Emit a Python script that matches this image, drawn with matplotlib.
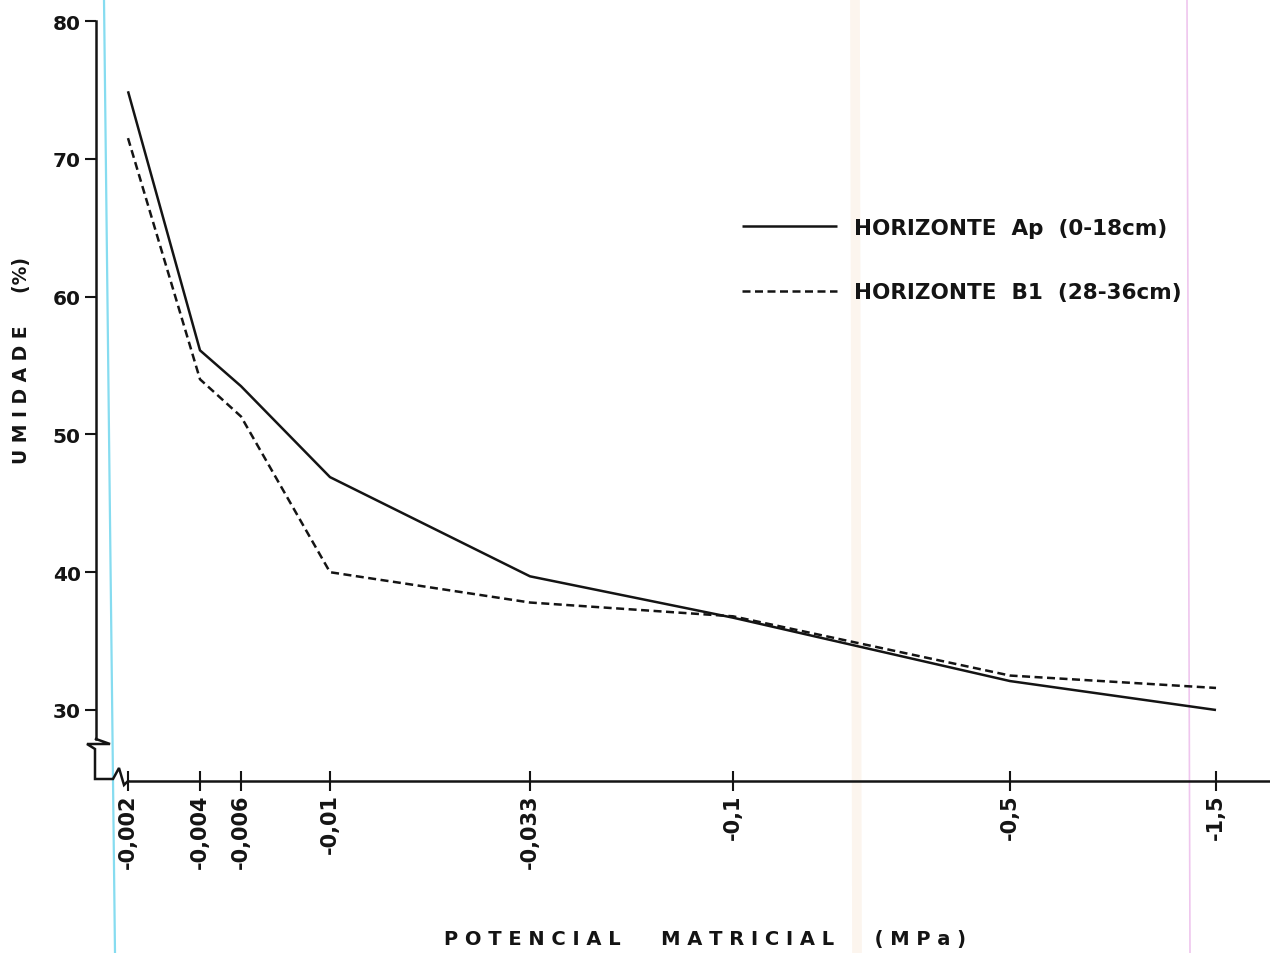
import numpy as np
import matplotlib
matplotlib.use("Agg")
import matplotlib.pyplot as plt
from matplotlib.lines import Line2D

# ---------------- data ----------------
potential = [0.002, 0.004, 0.006, 0.01, 0.033, 0.1, 0.5, 1.5]   # |MPa|
tick_labels = ['-0,002', '-0,004', '-0,006', '-0,01', '-0,033', '-0,1', '-0,5', '-1,5']
umidade_ap = [74.9, 56.1, 53.5, 46.9, 39.7, 36.7, 32.1, 30.0]
umidade_b1 = [71.5, 54.0, 51.3, 40.0, 37.8, 36.8, 32.5, 31.6]
y_ticks = [30, 40, 50, 60, 70, 80]
series_names = ['HORIZONTE  Ap  (0-18cm)', 'HORIZONTE  B1  (28-36cm)']

# ---------------- figure ----------------
W, H = 1270, 954
fig = plt.figure(figsize=(W / 100, H / 100), dpi=100)
fig.patch.set_facecolor('white')

# scanner artefact lines (behind everything)
fig.add_artist(Line2D([104 / W, 115 / W], [1, 0], color='#86dcf0', lw=1.6, zorder=0))
fig.add_artist(Line2D([1187 / W, 1190 / W], [1, 0], color='#efc6ee', lw=1.2, zorder=0))
fig.add_artist(Line2D([855 / W, 857 / W], [1, 0], color='#fcf5ee', lw=7, zorder=0))

# hand-drawn (quasi-log) x axis: anchor positions of the original drawing
anchor_log = np.log10(np.array([1e-4] + potential + [100.0]))
anchor_pos = np.array([128 - 239 * 1.301, 128, 200, 241, 330, 530, 733, 1010, 1216,
                       1216 + 420 * 1.824])

def fwd(v):
    v = np.asarray(v, dtype=float)
    return np.interp(np.log10(np.clip(v, 1e-12, None)), anchor_log, anchor_pos)

def inv(p):
    p = np.asarray(p, dtype=float)
    return 10 ** np.interp(p, anchor_pos, anchor_log)

ax_left, ax_right, ax_top, ax_bot = 96, 1270, 22, 782
ax = fig.add_axes([ax_left / W, 1 - ax_bot / H, (ax_right - ax_left) / W, (ax_bot - ax_top) / H])
ax.set_facecolor('none')
ax.set_xscale('function', functions=(fwd, inv))
ax.set_xlim(float(inv(ax_left)), float(inv(ax_right)))
px_per_unit = (711 - 22) / 50.0
ax.set_ylim(80 - (ax_bot - ax_top) / px_per_unit, 80)

ink = '#141414'
ax.plot(potential, umidade_ap, color=ink, lw=1.8, solid_capstyle='butt', label=series_names[0])
ax.plot(potential, umidade_b1, color=ink, lw=1.8, dashes=(3.2, 1.8), label=series_names[1])

# spines
for s in ['top', 'right']:
    ax.spines[s].set_visible(False)
for s in ['left', 'bottom']:
    ax.spines[s].set_color(ink)
    ax.spines[s].set_linewidth(1.8)
ax.spines['left'].set_bounds(80 - (740 - 22) / px_per_unit, 80)
ax.spines['bottom'].set_bounds(float(inv(128)), float(inv(ax_right)))

# ticks
ax.set_yticks(y_ticks)
ax.set_yticklabels([str(t) for t in y_ticks], fontsize=14.5, fontweight='bold', color=ink)
ax.tick_params(axis='y', direction='out', length=8, width=1.5, pad=3, colors=ink)
ax.set_xticks(potential)
ax.set_xticklabels(tick_labels, rotation=90, fontsize=15, fontweight='bold', color=ink)
ax.tick_params(axis='x', direction='inout', length=14, width=1.5, pad=2, colors=ink)
ax.xaxis.set_minor_locator(matplotlib.ticker.NullLocator())

# axis break symbols (figure pixel coordinates)
def fig_line(xs, ys, **kw):
    fig.add_artist(Line2D(np.array(xs) / W, 1 - np.array(ys) / H, color=ink, lw=1.8,
                          solid_joinstyle='miter', **kw))

fig_line([96, 110, 87, 95, 95, 113, 119, 124, 128],
         [740, 745, 745, 750, 780, 780, 769, 786, 782])

# axis labels
fig.text(22 / W, 1 - 360 / H, 'U M I D A D E     (%)', rotation=90, ha='center', va='center',
         fontsize=13.5, fontweight='bold', color=ink)
fig.text(705 / W, 1 - 940 / H, 'P O T E N C I A L      M A T R I C I A L      ( M P a )',
         ha='center', va='center', fontsize=14, fontweight='bold', color=ink)

# legend
leg = ax.legend(loc='upper left', bbox_to_anchor=(742 / W, 1 - 219 / H),
                bbox_transform=fig.transFigure, frameon=False, fontsize=15.5,
                handlelength=4.4, handletextpad=0.8, labelspacing=2.05,
                borderpad=0, borderaxespad=0)
for t in leg.get_texts():
    t.set_fontweight('bold')
    t.set_color(ink)

fig.savefig('out.png', dpi=100, facecolor='white')
